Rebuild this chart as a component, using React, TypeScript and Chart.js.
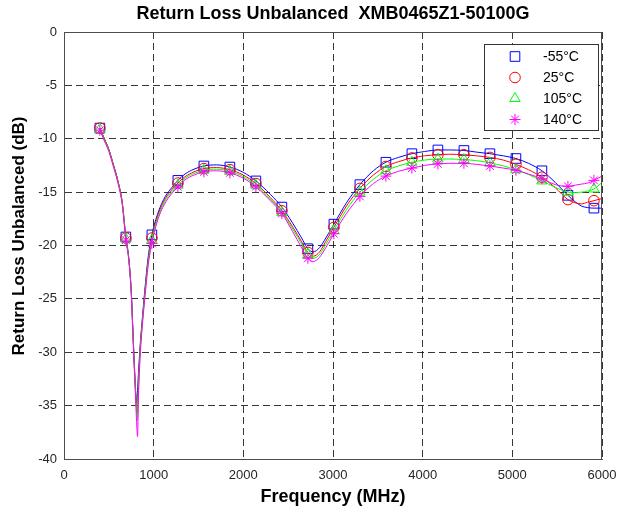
import React, { useEffect, useRef } from "react";
import { Chart, registerables } from "chart.js";
import { drawPoint } from "chart.js/helpers";

Chart.register(...registerables);

const FONT = "'Liberation Sans', Arial, Helvetica, sans-serif";

const TITLE = "Return Loss Unbalanced  XMB0465Z1-50100G";
const X_TITLE = "Frequency (MHz)";
const Y_TITLE = "Return Loss Unbalanced (dB)";

const FREQ = [
  400, 450, 500, 550, 600, 650, 690, 720, 750, 775, 800, 810, 820, 830, 850, 870, 900, 940, 980,
  1050, 1130, 1200, 1270, 1350, 1450, 1560, 1700, 1850, 2000, 2140, 2300, 2430, 2550, 2650, 2720,
  2780, 2850, 2920, 3010, 3150, 3300, 3450, 3590, 3730, 3880, 4020, 4170, 4300, 4460, 4600, 4750,
  4900, 5040, 5180, 5330, 5480, 5620, 5700, 5770, 5840, 5910, 6000,
];

const MARKER_FREQ = [
  400, 690, 980, 1270, 1560, 1850, 2140, 2430, 2720, 3010, 3300, 3590, 3880, 4170, 4460, 4750,
  5040, 5330, 5620, 5910,
];

const RL_M55 = [
  -9.0, -10.0, -11.0, -12.4, -13.9, -16.0, -19.2, -21.0, -24.3, -29.3, -33.8, -34.8, -33.6, -32.0,
  -29.3, -27.2, -24.3, -21.0, -19.0, -16.9, -15.4, -14.6, -13.9, -13.3, -12.85, -12.55, -12.45,
  -12.65, -13.15, -13.95, -15.2, -16.4, -17.9, -19.3, -20.3, -20.6, -20.2, -19.3, -18.0, -16.0,
  -14.3, -13.0, -12.2, -11.75, -11.4, -11.2, -11.05, -11.05, -11.1, -11.25, -11.4, -11.6, -11.85,
  -12.3, -13.0, -14.1, -15.3, -15.9, -16.3, -16.45, -16.5, -16.5,
];

const RL_25 = [
  -9.0, -10.0, -11.0, -12.4, -13.9, -16.0, -19.3, -21.0, -24.3, -29.4, -34.0, -35.3, -35.7, -33.0,
  -29.6, -27.4, -24.6, -21.3, -19.3, -17.1, -15.6, -14.8, -14.15, -13.55, -13.1, -12.8, -12.7,
  -12.9, -13.4, -14.2, -15.5, -16.75, -18.25, -19.65, -20.65, -21.0, -20.6, -19.6, -18.3, -16.3,
  -14.65, -13.4, -12.6, -12.15, -11.8, -11.6, -11.5, -11.45, -11.5, -11.6, -11.75, -12.0, -12.4,
  -12.9, -13.6, -14.6, -15.7, -16.0, -16.1, -15.95, -15.8, -15.6,
];

const RL_105 = [
  -9.1, -10.1, -11.1, -12.5, -14.0, -16.1, -19.4, -21.1, -24.4, -29.6, -34.2, -35.7, -36.3, -33.5,
  -29.9, -27.6, -24.8, -21.5, -19.5, -17.3, -15.8, -15.0, -14.35, -13.7, -13.25, -12.95, -12.85,
  -13.05, -13.55, -14.35, -15.65, -16.9, -18.45, -19.85, -20.85, -21.2, -20.85, -19.9, -18.6,
  -16.65, -15.0, -13.8, -13.0, -12.55, -12.2, -12.0, -11.9, -11.9, -11.95, -12.05, -12.25, -12.55,
  -12.9, -13.35, -13.95, -14.55, -15.0, -15.05, -15.0, -14.9, -14.7, -14.1,
];

const RL_140 = [
  -9.2, -10.2, -11.2, -12.6, -14.1, -16.2, -19.5, -21.2, -24.5, -29.8, -34.6, -36.6, -37.9, -34.3,
  -30.3, -27.9, -25.1, -21.8, -19.8, -17.5, -16.0, -15.15, -14.5, -13.85, -13.4, -13.1, -13.0,
  -13.2, -13.7, -14.5, -15.8, -17.0, -18.7, -20.2, -21.2, -21.5, -21.1, -20.2, -18.9, -17.0,
  -15.4, -14.2, -13.5, -13.05, -12.75, -12.5, -12.35, -12.3, -12.3, -12.4, -12.55, -12.75, -12.95,
  -13.3, -13.75, -14.3, -14.45, -14.35, -14.25, -14.15, -13.9, -13.5,
];

const SERIES = [
  { label: "-55°C", values: RL_M55, color: "#0000FF", style: "rect", radius: 6.8 },
  { label: "25°C", values: RL_25, color: "#FF0000", style: "circle", radius: 5.3 },
  { label: "105°C", values: RL_105, color: "#00FF00", style: "triangle", radius: 6 },
  { label: "140°C", values: RL_140, color: "#FF00FF", style: "star", radius: 5.5 },
];

const framePlugin = {
  id: "frameAndLegend",
  afterDraw(chart: any) {
    const { ctx, chartArea } = chart;
    const { left, right, top, bottom } = chartArea;
    ctx.save();
    // frame
    ctx.strokeStyle = "#4d4d4d";
    ctx.lineWidth = 1;
    ctx.setLineDash([]);
    ctx.strokeRect(Math.round(left) + 0.5, Math.round(top) + 0.5, Math.round(right - left) - 1, Math.round(bottom - top));
    // title
    ctx.fillStyle = "#000";
    ctx.font = `bold 18px ${FONT}`;
    ctx.textAlign = "center";
    ctx.textBaseline = "middle";
    ctx.fillText(TITLE, (left + right) / 2, 14);
    // y axis title
    ctx.save();
    ctx.translate(19, 236);
    ctx.rotate(-Math.PI / 2);
    ctx.font = `bold 17px ${FONT}`;
    ctx.fillText(Y_TITLE, 0, 0);
    ctx.restore();
    // legend
    const bx = 484.5, by = 44.5, bw = 114, bh = 86;
    ctx.fillStyle = "#fff";
    ctx.fillRect(bx, by, bw, bh);
    ctx.strokeStyle = "#333";
    ctx.strokeRect(bx, by, bw, bh);
    ctx.font = `14px ${FONT}`;
    ctx.textAlign = "left";
    SERIES.forEach((s, i) => {
      const y = 56.5 + 21 * i;
      ctx.strokeStyle = s.color;
      ctx.fillStyle = "rgba(0,0,0,0)";
      ctx.lineWidth = 1;
      drawPoint(ctx, { pointStyle: s.style, radius: s.radius, rotation: 0, borderWidth: 1 } as any, 515, y);
      ctx.fillStyle = "#000";
      ctx.fillText(s.label, 543, y + 1);
    });
    ctx.restore();
  },
};

export default function App() {
  const ref = useRef<HTMLCanvasElement>(null);
  useEffect(() => {
    const gridColor = "rgba(20,20,20,0.85)";
    const chart = new Chart(ref.current as HTMLCanvasElement, {
      type: "line",
      data: {
        datasets: SERIES.map((s, k) => ({
          label: s.label,
          data: FREQ.map((f, i) => ({ x: f, y: s.values[i] })),
          borderColor: s.color,
          borderWidth: 1,
          backgroundColor: "rgba(0,0,0,0)",
          fill: false,
          pointStyle: s.style as any,
          pointRadius: (c: any) => (MARKER_FREQ.includes(FREQ[c.dataIndex]) ? s.radius : 0),
          pointHoverRadius: 0,
          pointBorderWidth: 1,
          pointBorderColor: s.color,
          pointBackgroundColor: "rgba(0,0,0,0)",
          cubicInterpolationMode: "monotone" as const,
          order: 3 - k,
        })),
      },
      options: {
        responsive: false,
        animation: false,
        events: [],
        layout: { padding: { top: 32, right: 21, left: 0, bottom: 0 } },
        plugins: {
          legend: { display: false },
          tooltip: { enabled: false },
          title: { display: false },
        },
        scales: {
          x: {
            type: "linear",
            min: 0,
            max: 6000,
            ticks: {
              stepSize: 1000,
              autoSkip: false,
              maxRotation: 0,
              padding: 5,
              color: "#262626",
              font: { family: FONT, size: 13 },
              callback: (v: any) => String(v),
            },
            grid: { color: gridColor, lineWidth: 1, drawTicks: true, tickLength: 4, tickColor: "rgba(0,0,0,0)" },
            border: { display: true, color: "#4d4d4d", dash: [7, 4] },
            title: {
              display: true,
              text: X_TITLE,
              color: "#000",
              font: { family: FONT, size: 18, weight: "bold" },
              padding: { top: 0, bottom: 7 },
            },
            afterFit: (s: any) => {
              s.height = 56;
            },
          },
          y: {
            type: "linear",
            min: -40,
            max: 0,
            ticks: {
              stepSize: 5,
              padding: 7,
              color: "#262626",
              font: { family: FONT, size: 13 },
              callback: (v: any) => String(v),
            },
            grid: { color: gridColor, lineWidth: 1, drawTicks: false },
            border: { display: true, color: "#4d4d4d", dash: [7, 4] },
            title: { display: false },
            afterFit: (s: any) => {
              s.width = 64;
            },
          },
        },
      },
      plugins: [framePlugin],
    });
    return () => chart.destroy();
  }, []);
  return (
    <div style={{ position: "absolute", left: 0, top: 0, width: 623, height: 515, background: "#fff" }}>
      <canvas ref={ref} width={623} height={515} style={{ display: "block" }} />
    </div>
  );
}
